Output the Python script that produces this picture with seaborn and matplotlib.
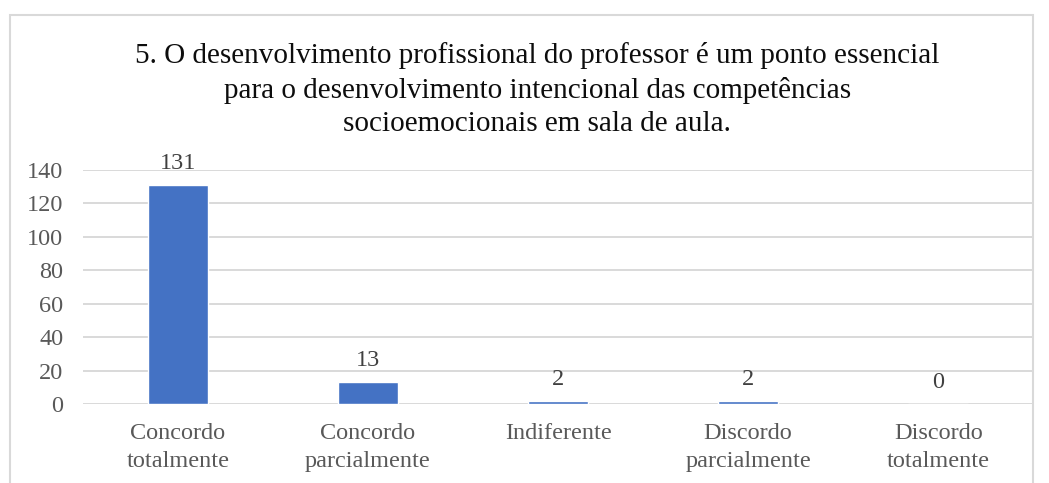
import matplotlib
matplotlib.use("Agg")
import matplotlib.pyplot as plt
import seaborn as sns
import pandas as pd
from matplotlib.patches import Rectangle

# ── DATA ───────────────────────────────────────────────
categories = ["Concordo\ntotalmente", "Concordo\nparcialmente", "Indiferente",
              "Discordo\nparcialmente", "Discordo\ntotalmente"]
counts = [131, 13, 2, 2, 0]
title = ("5. O desenvolvimento profissional do professor é um ponto essencial\n"
         "para o desenvolvimento intencional das competências\n"
         "socioemocionais em sala de aula.")

df = pd.DataFrame({"categoria": categories, "respostas": counts})

# ── STYLE ──────────────────────────────────────────────
sns.set_theme(style="white")
plt.rcParams["font.family"] = ["Liberation Serif", "DejaVu Serif"]

fig = plt.figure(figsize=(10.49, 4.83), dpi=100)
ax = fig.add_axes([0.079, 0.1636, 0.906, 0.4844])

sns.barplot(data=df, x="categoria", y="respostas", color="#4472C4",
            width=0.316, saturation=1, ax=ax, zorder=3)

ax.set_ylim(0, 140)
ax.set_yticks(range(0, 141, 20))
ax.grid(axis="y", color="#D9D9D9", linewidth=1.4, zorder=0)
ax.set_axisbelow(True)
for s in ax.spines.values():
    s.set_visible(False)

ax.set_xlabel("")
ax.set_ylabel("")
ax.tick_params(axis="both", length=0, labelsize=17.5, labelcolor="#595959")
ax.tick_params(axis="x", pad=14)
ax.tick_params(axis="y", pad=14)
for lbl in ax.get_xticklabels():
    lbl.set_linespacing(1.4)

for c in ax.containers:
    ax.bar_label(c, labels=[str(v) for v in counts], padding=8,
                 fontsize=17.5, color="#404040")

fig.text(0.512, 1 - 42 / 483, title, ha="center", va="top",
         fontsize=21, color="#0D0D0D", linespacing=1.36)

# chart frame
fig.patches.append(Rectangle((10 / 1049, -0.05), 1023 / 1049, 1 - 15 / 483 + 0.05,
                             transform=fig.transFigure, fill=False,
                             edgecolor="#D9D9D9", linewidth=1.5))

fig.savefig("out.png", dpi=100, facecolor="white")
